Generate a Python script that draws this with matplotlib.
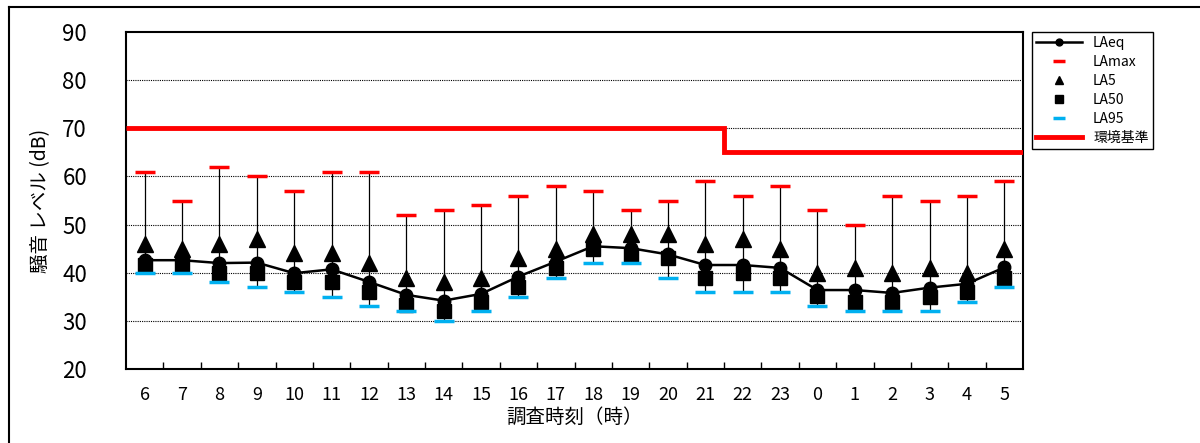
import numpy as np
import matplotlib
matplotlib.use('Agg')
import matplotlib.pyplot as plt
from matplotlib.lines import Line2D

plt.rcParams['font.family'] = ['Liberation Sans Narrow', 'Noto Sans CJK JP', 'DejaVu Sans']

hours = ['6', '7', '8', '9', '10', '11', '12', '13', '14', '15', '16', '17',
         '18', '19', '20', '21', '22', '23', '0', '1', '2', '3', '4', '5']
laeq = [42.6, 42.6, 42.0, 42.1, 39.9, 40.7, 38.1, 35.4, 34.2, 35.6, 39.2, 42.3,
        45.5, 45.1, 43.8, 41.6, 41.6, 41.0, 36.4, 36.4, 35.8, 36.9, 37.7, 41.1]
lamax = [61, 55, 62, 60, 57, 61, 61, 52, 53, 54, 56, 58,
         57, 53, 55, 59, 56, 58, 53, 50, 56, 55, 56, 59]
la5 = [46, 45, 46, 47, 44, 44, 42, 39, 38, 39, 43, 45,
       48, 48, 48, 46, 47, 45, 40, 41, 40, 41, 40, 45]
la50 = [41.5, 41.6, 40, 40, 38, 38, 36, 33.3, 32, 34, 37, 41,
        45, 43.7, 43, 39, 40, 39, 35.2, 34, 34, 35, 36, 39]
la95 = [40, 40, 38, 37, 36, 35, 33, 32, 30, 32, 35, 39,
        42, 42, 39, 36, 36, 36, 33, 32, 32, 32, 34, 37]
env_std = [70] * 16 + [65] * 8


def plot_graph():
    fig = plt.figure(figsize=(12, 4.43), dpi=100)
    ax = fig.add_axes([126 / 1200, 1 - 369 / 443, 897 / 1200, 337 / 443])
    x = np.arange(len(hours))

    # high-low lines
    ax.vlines(x, la95, lamax, color='black', lw=0.9, zorder=2)
    ax.plot(x, laeq, color='black', lw=1.8, marker='o', ms=9, label='LAeq', zorder=5)
    ax.plot(x, lamax, ls='none', marker='_', ms=15, mew=2.5, color='#ff0000', label='LAmax', zorder=6)
    ax.plot(x, la5, ls='none', marker='^', ms=11, color='black', label='LA5', zorder=4)
    ax.plot(x, la50, ls='none', marker='s', ms=9.5, color='black', label='LA50', zorder=4)
    ax.plot(x, la95, ls='none', marker='_', ms=15, mew=2.5, color='#00b0f0', label='LA95', zorder=6)
    edges = np.arange(len(hours) + 1) - 0.5
    ax.stairs(env_std, edges, baseline=None, color='#ff0000', lw=3.5, label='環境基準', zorder=3)

    ax.set_xlim(-0.5, len(hours) - 0.5)
    ax.set_ylim(20, 90)
    ax.set_yticks(range(20, 91, 10))
    ax.set_xticks(x)
    ax.set_xticklabels(hours, fontsize=13)
    ax.tick_params(axis='x', length=0, pad=12)
    ax.tick_params(axis='y', length=0, pad=28, labelsize=16)
    ax.set_xticks(edges[1:-1], minor=True)
    ax.tick_params(axis='x', which='minor', direction='in', length=5, width=1)
    for y in range(30, 90, 10):
        ax.axhline(y, color='black', lw=0.8, ls=(0, (1, 1)), zorder=1)
    for s in ax.spines.values():
        s.set_linewidth(1.5)

    ax.set_xlabel('調査時刻（時）', fontsize=14, labelpad=2)
    ax.set_ylabel('騒音 レベル (dB)', fontsize=14, labelpad=8)

    leg = ax.legend(loc='upper left', bbox_to_anchor=(1032 / 1200, 1 - 32 / 443),
                    bbox_transform=fig.transFigure, borderaxespad=0, fontsize=10,
                    fancybox=False, edgecolor='black', framealpha=1, markerscale=0.55,
                    handlelength=3.3, labelspacing=0.35, borderpad=0.3)
    leg.get_frame().set_linewidth(1)

    # outer border
    fig.add_artist(Line2D([9 / 1200, 1], [1 - 7 / 443, 1 - 7 / 443], color='black', lw=1.5,
                          transform=fig.transFigure))
    fig.add_artist(Line2D([9 / 1200, 9 / 1200], [0, 1 - 7 / 443], color='black', lw=1.5,
                          transform=fig.transFigure))

    fig.savefig('out.png', dpi=100)


def main():
    plot_graph()


main()
